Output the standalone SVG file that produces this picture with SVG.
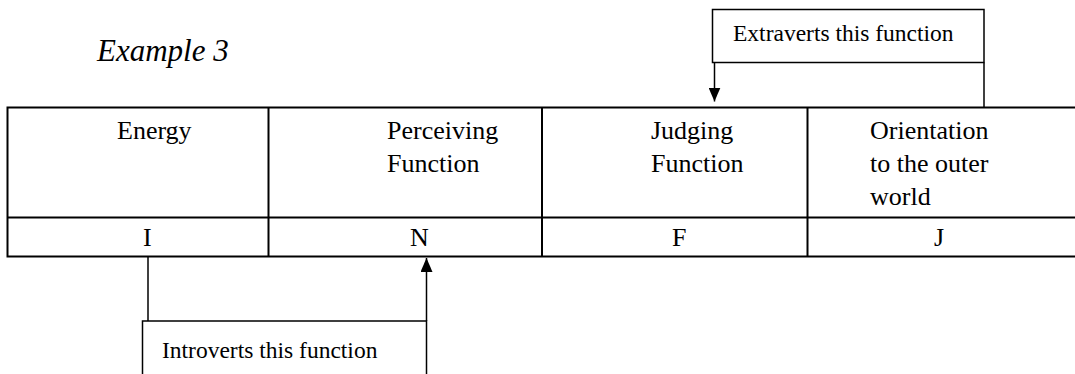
<svg xmlns="http://www.w3.org/2000/svg" width="1075" height="374" viewBox="0 0 1075 374">
<style>
text{font-family:"Liberation Serif","Times New Roman",serif;fill:#000}
.t{font-size:26px}
.l{font-size:23.5px}
.ex{font-size:31px;font-style:italic}
.g{stroke:#000;stroke-width:2;fill:none}
.c{stroke:#000;stroke-width:1.5;fill:none}
</style>
<defs>
<marker id="ah" markerWidth="14" markerHeight="12" refX="14" refY="6" orient="auto" markerUnits="userSpaceOnUse" viewBox="0 0 14 12">
<path d="M0,0 L14,6 L0,12 Z" fill="#000"/>
</marker>
</defs>
<rect width="1075" height="374" fill="#fff"/>
<text class="ex" x="97" y="61">Example 3</text>
<g id="table">
<path class="g" d="M7.5,107.5 H1080 M7.5,217.5 H1080 M7.5,256.5 H1080 M7.5,106.5 V257.5 M268.5,107.5 V257.5 M542,107.5 V257.5 M807.5,107.5 V257.5"/>
<text class="t" x="117" y="139">Energy</text>
<text class="t" x="387" y="139">Perceiving</text>
<text class="t" x="387" y="172">Function</text>
<text class="t" x="651" y="139">Judging</text>
<text class="t" x="651" y="172">Function</text>
<text class="t" x="870" y="139">Orientation</text>
<text class="t" x="870" y="172">to the outer</text>
<text class="t" x="870" y="205">world</text>
<text class="t" x="143" y="246">I</text>
<text class="t" x="410" y="246">N</text>
<text class="t" x="672" y="246">F</text>
<text class="t" x="934" y="246">J</text>
</g>
<g id="extraverts">
<rect class="c" x="712.5" y="9.5" width="271.5" height="53"/>
<text class="l" x="733" y="41">Extraverts this function</text>
</g>
<g id="introverts">
<rect class="c" x="142.5" y="321" width="284" height="60"/>
<text class="l" x="162" y="358">Introverts this function</text>
</g>
<g id="connectors">
<path class="c" d="M714.5,62.5 V101.5" marker-end="url(#ah)"/>
<path class="c" d="M984,62.5 V107"/>
<path class="c" d="M148,257 V321"/>
<path class="c" d="M426.5,321 V258" marker-end="url(#ah)"/>
</g>
</svg>
